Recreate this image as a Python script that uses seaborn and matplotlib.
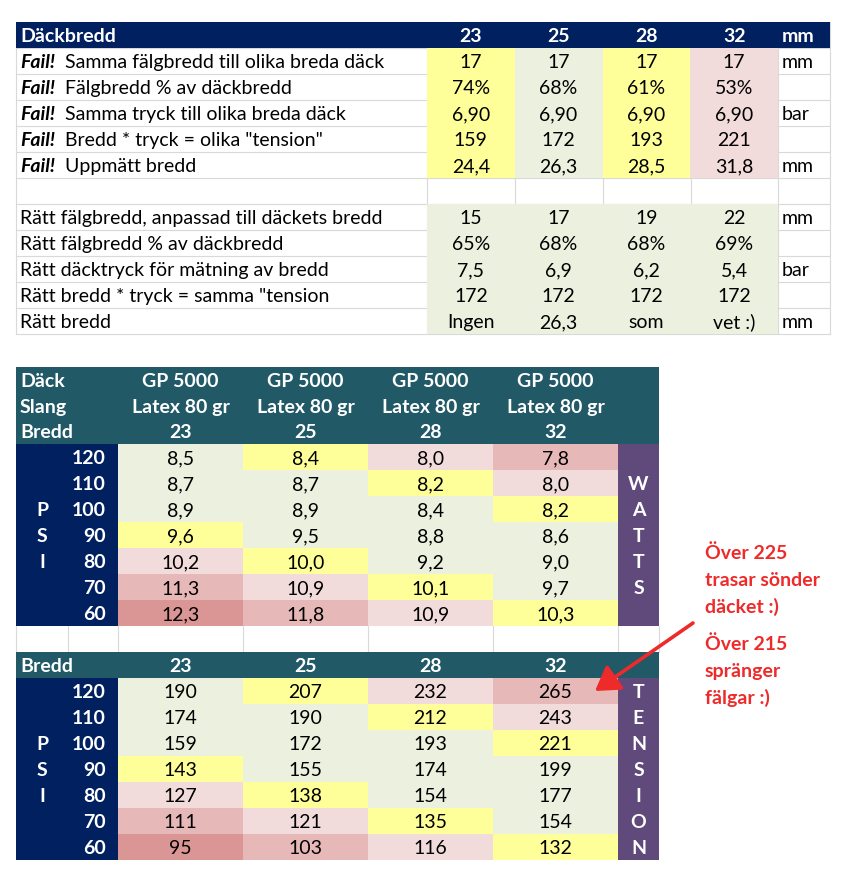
import matplotlib
matplotlib.use("Agg")
import matplotlib.pyplot as plt
from matplotlib.colors import ListedColormap
from matplotlib.patches import Rectangle
import numpy as np
import seaborn as sns

sns.set_theme(style="white")
plt.rcParams['font.family'] = ['Lato', 'DejaVu Sans']

# ---------------- data ----------------
tyre_widths = [23, 25, 28, 32]

fail_labels = ["Samma fälgbredd till olika breda däck",
               "Fälgbredd % av däckbredd",
               "Samma tryck till olika breda däck",
               'Bredd * tryck = olika "tension"',
               "Uppmätt bredd"]
fail_values = [["17", "17", "17", "17"],
               ["74%", "68%", "61%", "53%"],
               ["6,90", "6,90", "6,90", "6,90"],
               ["159", "172", "193", "221"],
               ["24,4", "26,3", "28,5", "31,8"]]
fail_units = ["mm", "", "bar", "", "mm"]
fail_shade = [1, 0, 1, 2]   # per tyre column

right_labels = ["Rätt fälgbredd, anpassad till däckets bredd",
                "Rätt fälgbredd % av däckbredd",
                "Rätt däcktryck för mätning av bredd",
                'Rätt bredd * tryck = samma "tension',
                "Rätt bredd"]
right_values = [["15", "17", "19", "22"],
                ["65%", "68%", "68%", "69%"],
                ["7,5", "6,9", "6,2", "5,4"],
                ["172", "172", "172", "172"],
                ["Ingen", "26,3", "som", "vet :)"]]
right_units = ["mm", "", "bar", "", "mm"]

tyre_model = "GP 5000"
tube = "Latex 80 gr"
psi = [120, 110, 100, 90, 80, 70, 60]
watts = [[8.5, 8.4, 8.0, 7.8],
         [8.7, 8.7, 8.2, 8.0],
         [8.9, 8.9, 8.4, 8.2],
         [9.6, 9.5, 8.8, 8.6],
         [10.2, 10.0, 9.2, 9.0],
         [11.3, 10.9, 10.1, 9.7],
         [12.3, 11.8, 10.9, 10.3]]
tension = [[190, 207, 232, 265],
           [174, 190, 212, 243],
           [159, 172, 193, 221],
           [143, 155, 174, 199],
           [127, 138, 154, 177],
           [111, 121, 135, 154],
           [95, 103, 116, 132]]
# 0 green, 1 yellow, 2 light red, 3 red, 4 dark red
shade_levels = [[0, 1, 2, 3],
                [0, 0, 1, 2],
                [0, 0, 0, 1],
                [1, 0, 0, 0],
                [2, 1, 0, 0],
                [3, 2, 1, 0],
                [4, 3, 2, 1]]
note_tire = ["Över 225", "trasar sönder", "däcket :)"]
note_rim = ["Över 215", "spränger", "fälgar :)"]

# ---------------- style / layout ----------------
W, H = 848, 883
FS = 14
BASE = 7          # baseline offset below row centre (px)
shades = ["#EBF1DE", "#FFFF99", "#F2DCDB", "#E6B8B7", "#DA9694"]
cmap = ListedColormap(shades)
NAVY, TEAL, PURPLE, GRID, RED = "#002060", "#215967", "#604A7B", "#D9D9D9", "#EE2A2A"
RH = 26

fig = plt.figure(figsize=(W / 100, H / 100), dpi=100)
ax = fig.add_axes([0, 0, 1, 1])
ax.set_xlim(0, W)
ax.set_ylim(H, 0)
ax.set_axis_off()


def rect(x0, y0, x1, y1, color):
    ax.add_patch(Rectangle((x0, y0), x1 - x0, y1 - y0, fc=color, lw=0, zorder=1))


def txt(x, y, s, ha="left", color="black", weight="normal", style="normal", a=None):
    (a or ax).text(x, y + BASE, s, ha=ha, va="baseline", color=color, fontsize=FS,
                   fontweight=weight, fontstyle=style, zorder=3)


def heat_block(x0, x1, y0, codes, annot):
    codes = np.array(codes, dtype=float)
    y1 = y0 + RH * codes.shape[0]
    hax = fig.add_axes([x0 / W, 1 - y1 / H, (x1 - x0) / W, (y1 - y0) / H])
    sns.heatmap(codes, mask=np.isnan(codes), cmap=cmap, vmin=-0.5, vmax=4.5,
                annot=np.array(annot, dtype=object), fmt="", cbar=False,
                xticklabels=False, yticklabels=False, linewidths=0,
                annot_kws=dict(color="black", fontsize=FS), ax=hax)
    for t in hax.texts:
        t.set_va("baseline")
        t.set_y(t.get_position()[1] + BASE / RH)
    hax.patch.set_alpha(0)
    hax.set_axis_off()


# ---------------- top table ----------------
tx = [16, 427, 515, 603, 691, 778, 830]
ty0 = 22
n_top = len(fail_labels) + 1 + len(right_labels)
ybot = ty0 + RH * (n_top + 1)
for i in range(n_top + 2):
    ax.plot([tx[0], tx[-1]], [ty0 + i * RH] * 2, color=GRID, lw=0.8, zorder=0)
for x in tx:
    ax.plot([x, x], [ty0, ybot], color=GRID, lw=0.8, zorder=0)

rect(tx[0], ty0, tx[-1], ty0 + RH, NAVY)
yc = ty0 + RH / 2
txt(20, yc, "Däckbredd", color="white", weight="bold")
for j, w in enumerate(tyre_widths):
    txt((tx[j + 1] + tx[j + 2]) / 2, yc, str(w), ha="center", color="white", weight="bold")
txt(782, yc, "mm", color="white", weight="bold")

for i, lab in enumerate(fail_labels):
    yc = ty0 + RH * (i + 1.5)
    txt(20, yc, "Fail!", weight="bold", style="italic")
    txt(65, yc, lab)
    txt(782, yc, fail_units[i])
for i, lab in enumerate(right_labels):
    yc = ty0 + RH * (i + len(fail_labels) + 2.5)
    txt(20, yc, lab)
    txt(782, yc, right_units[i])

top_codes = [fail_shade for _ in fail_labels] + [[np.nan] * 4] + [[0] * 4 for _ in right_labels]
top_annot = fail_values + [[""] * 4] + right_values
heat_block(tx[1], tx[5], ty0 + RH, top_codes, top_annot)

# ---------------- watts / tension tables ----------------
bx = [16, 68, 118, 243, 368, 493, 618, 659]
hdr_h = 77 / 3


def side_block(y0, word):
    n = len(psi)
    rect(bx[0], y0, bx[2], y0 + RH * n, NAVY)
    rect(bx[6], y0, bx[7], y0 + RH * n, PURPLE)
    for i, p in enumerate(psi):
        yc = y0 + RH * (i + 0.5)
        txt(106, yc, str(p), ha="right", color="white", weight="bold")
        if 2 <= i <= 4:
            txt((bx[0] + bx[1]) / 2, yc, "PSI"[i - 2], ha="center", color="white", weight="bold")
    start = (n - len(word)) // 2
    for k, ch in enumerate(word):
        txt((bx[6] + bx[7]) / 2, y0 + RH * (start + k + 0.5), ch, ha="center",
            color="white", weight="bold")


# watts header
wy0 = 367
rect(bx[0], wy0, bx[-1], wy0 + 3 * hdr_h, TEAL)
for r, lab in enumerate(["Däck", "Slang", "Bredd"]):
    yc = wy0 + hdr_h * (r + 0.5)
    txt(20, yc, lab, color="white", weight="bold")
    for j, w in enumerate(tyre_widths):
        s = [tyre_model, tube, str(w)][r]
        txt((bx[j + 2] + bx[j + 3]) / 2, yc, s, ha="center", color="white", weight="bold")
wd0 = wy0 + 3 * hdr_h
side_block(wd0, "WATTS")
heat_block(bx[2], bx[6], wd0, shade_levels,
           [[f"{v:.1f}".replace(".", ",") for v in row] for row in watts])

# empty spacer row
gy0 = wd0 + RH * len(psi)
for x in bx:
    ax.plot([x, x], [gy0, gy0 + RH], color=GRID, lw=0.8, zorder=0)

# tension header
ty = gy0 + RH
rect(bx[0], ty, bx[-1], ty + RH, TEAL)
txt(20, ty + RH / 2, "Bredd", color="white", weight="bold")
for j, w in enumerate(tyre_widths):
    txt((bx[j + 2] + bx[j + 3]) / 2, ty + RH / 2, str(w), ha="center", color="white", weight="bold")
td0 = ty + RH
side_block(td0, "TENSION")
heat_block(bx[2], bx[6], td0, shade_levels, [[str(v) for v in row] for row in tension])

# ---------------- notes + arrow ----------------
top = fig.add_axes([0, 0, 1, 1])
top.set_xlim(0, W)
top.set_ylim(H, 0)
top.set_axis_off()
top.patch.set_alpha(0)
for k, s in enumerate(note_tire):
    txt(705, 552 + 27 * k, s, color=RED, weight="bold", a=top)
for k, s in enumerate(note_rim):
    txt(705, 643 + 27 * k, s, color=RED, weight="bold", a=top)
top.annotate("", xy=(595, 691), xytext=(693, 623),
             arrowprops=dict(arrowstyle="-|>,head_length=0.45,head_width=0.28",
                             color=RED, lw=2.6, mutation_scale=32, shrinkA=0, shrinkB=0))

fig.savefig("out.png", dpi=100)
